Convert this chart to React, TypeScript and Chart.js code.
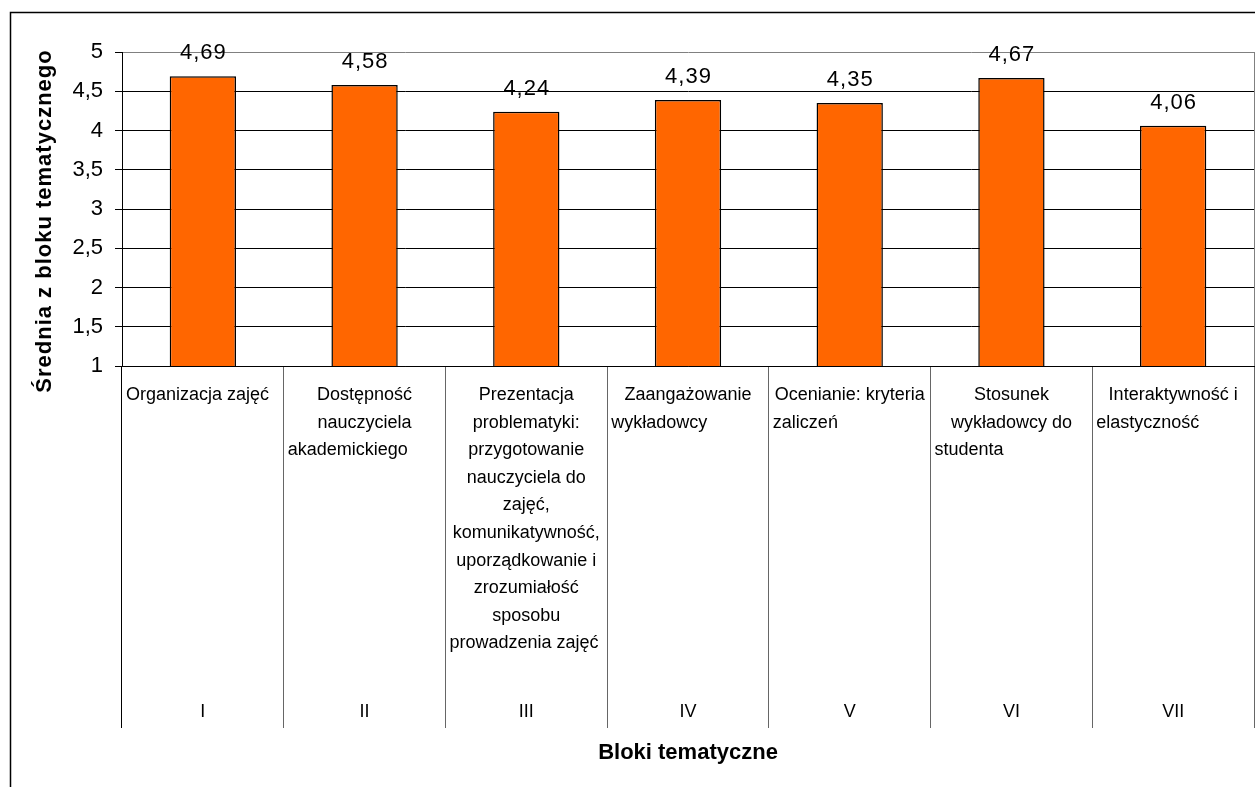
import React, { useEffect, useRef } from 'react';
import { Chart, registerables } from 'chart.js';

Chart.register(...registerables);

const blockNumbers: string[] = ['I', 'II', 'III', 'IV', 'V', 'VI', 'VII'];
const blockNames: string[][] = [
  ['Organizacja zajęć'],
  ['Dostępność', 'nauczyciela', 'akademickiego'],
  [
    'Prezentacja',
    'problematyki:',
    'przygotowanie',
    'nauczyciela do',
    'zajęć,',
    'komunikatywność,',
    'uporządkowanie i',
    'zrozumiałość',
    'sposobu',
    'prowadzenia zajęć',
  ],
  ['Zaangażowanie', 'wykładowcy'],
  ['Ocenianie: kryteria', 'zaliczeń'],
  ['Stosunek', 'wykładowcy do', 'studenta'],
  ['Interaktywność i', 'elastyczność'],
];
const meanScores: number[] = [4.69, 4.58, 4.24, 4.39, 4.35, 4.67, 4.06];
const yMin = 1;
const yMax = 5;
const yStep = 0.5;
const yTitle = 'Średnia z bloku tematycznego';
const xTitle = 'Bloki tematyczne';

const FONT = '"Liberation Sans", Arial, Helvetica, sans-serif';
const fmt = (v: number, d?: number) => (d !== undefined ? v.toFixed(d) : String(v)).replace('.', ',');

const decorPlugin = {
  id: 'decor',
  beforeDraw(chart: any) {
    const ctx = chart.ctx as CanvasRenderingContext2D;
    ctx.save();
    ctx.strokeStyle = '#000';
    ctx.lineWidth = 1.5;
    ctx.strokeRect(10.5, 12.5, chart.width + 200, chart.height + 200);
    ctx.restore();
  },
  afterDatasetsDraw(chart: any) {
    const ctx = chart.ctx as CanvasRenderingContext2D;
    const meta = chart.getDatasetMeta(0);
    ctx.save();
    ctx.fillStyle = '#000';
    ctx.font = `22px ${FONT}`;
    (ctx as any).letterSpacing = '1px';
    ctx.textAlign = 'center';
    ctx.textBaseline = 'middle';
    meta.data.forEach((bar: any, i: number) => {
      ctx.fillText(fmt(meanScores[i], 2), bar.x + 0.5, bar.y - 23);
    });
    ctx.restore();
  },
  afterDraw(chart: any) {
    const ctx = chart.ctx as CanvasRenderingContext2D;
    const area = chart.chartArea;
    const xs = chart.scales.x;
    const n = blockNames.length;
    const w = (xs.right - xs.left) / n;
    ctx.save();
    // right border of plot area
    ctx.strokeStyle = '#808080';
    ctx.lineWidth = 1;
    ctx.beginPath();
    ctx.moveTo(Math.round(area.right) + 0.5, area.top);
    ctx.lineTo(Math.round(area.right) + 0.5, area.bottom);
    ctx.stroke();

    ctx.fillStyle = '#000';
    ctx.font = `18px ${FONT}`;
    ctx.textBaseline = 'middle';
    blockNames.forEach((lines, i) => {
      const cx = xs.getPixelForValue(i);
      const left = cx - w / 2;
      lines.forEach((line, k) => {
        const y = area.bottom + 29 + k * 27.6;
        if (k === lines.length - 1) {
          ctx.textAlign = 'left';
          ctx.fillText(line, left + 4, y);
        } else {
          ctx.textAlign = 'center';
          ctx.fillText(line, cx, y);
        }
      });
      ctx.textAlign = 'center';
      ctx.fillText(blockNumbers[i], cx, area.bottom + 346);
    });

    // y axis title
    ctx.font = `bold 22px ${FONT}`;
    (ctx as any).letterSpacing = '1px';
    ctx.translate(45, 221);
    ctx.rotate(-Math.PI / 2);
    ctx.textAlign = 'center';
    ctx.fillText(yTitle, 0, 0);
    ctx.restore();
  },
};

export default function App() {
  const canvasRef = useRef<HTMLCanvasElement | null>(null);

  useEffect(() => {
    if (!canvasRef.current) return;
    const chart = new Chart(canvasRef.current, {
      type: 'bar',
      data: {
        labels: blockNumbers,
        datasets: [
          {
            data: meanScores,
            backgroundColor: '#FF6600',
            borderColor: '#000',
            borderWidth: 1.5,
            borderSkipped: false,
            barPercentage: 0.41,
            categoryPercentage: 1,
          },
        ],
      },
      options: {
        animation: false,
        responsive: false,
        devicePixelRatio: 1,
        layout: { padding: { top: 52, right: 1, left: 0, bottom: 0 } },
        plugins: {
          legend: { display: false },
          tooltip: { enabled: false },
        },
        scales: {
          x: {
            type: 'category',
            offset: true,
            afterFit: (s: any) => {
              s.height = 421;
            },
            border: { display: true, color: '#000', width: 1 },
            grid: {
              offset: true,
              drawOnChartArea: false,
              drawTicks: true,
              tickLength: 362,
              color: (c: any) => (c.index === 0 ? '#000' : '#666'),
              tickColor: (c: any) => (c.index === 0 ? '#000' : '#666'),
              lineWidth: 1,
            },
            ticks: { display: false },
            title: {
              display: true,
              text: xTitle,
              color: '#000',
              font: { family: FONT, size: 22, weight: 'bold' },
              padding: { top: 0, bottom: 21 },
            },
          },
          y: {
            min: yMin,
            max: yMax,
            afterFit: (s: any) => {
              s.width = 122;
            },
            border: { display: true, color: '#000', width: 1 },
            grid: {
              color: (c: any) => (c.tick && c.tick.value === yMax ? '#808080' : '#000'),
              tickColor: '#000',
              tickLength: 7,
              lineWidth: 1,
            },
            ticks: {
              stepSize: yStep,
              padding: 12,
              color: '#000',
              font: { family: FONT, size: 22 },
              callback: (v: any) => fmt(Number(v)),
            },
          },
        },
      },
      plugins: [decorPlugin],
    } as any);
    return () => chart.destroy();
  }, []);

  return (
    <div style={{ position: 'fixed', left: 0, top: 0, width: 1255, height: 787, background: '#fff' }}>
      <canvas ref={canvasRef} width={1255} height={787} style={{ display: 'block' }} />
    </div>
  );
}
